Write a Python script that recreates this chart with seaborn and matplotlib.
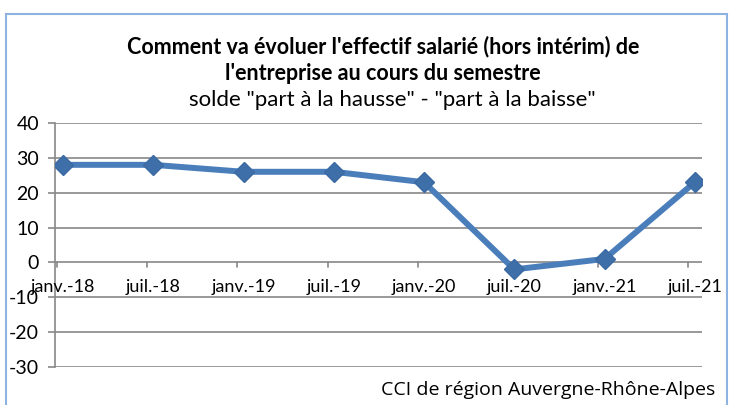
import matplotlib
matplotlib.use("Agg")
import matplotlib.pyplot as plt
import seaborn as sns
import pandas as pd
from matplotlib.patches import Rectangle

periods = ["janv.-18", "juil.-18", "janv.-19", "juil.-19", "janv.-20", "juil.-20", "janv.-21", "juil.-21"]
values = [28, 28, 26, 26, 23, -2, 1, 23]
y_ticks = [40, 30, 20, 10, 0, -10, -20, -30]

sns.set_theme(style="white")
plt.rcParams['font.family'] = ['Lato', 'DejaVu Sans']

df = pd.DataFrame({"x": range(len(periods)), "v": values})

fig = plt.figure(figsize=(7.29, 4.05), dpi=100)
fig.patch.set_facecolor("white")
fig.patches.append(Rectangle((6/729, -0.02), (727-6)/729, 1 - 14/405 + 0.02, transform=fig.transFigure,
                             fill=False, edgecolor="#8DB3E2", linewidth=1.5))

ax = fig.add_axes([55/729, 38/405, (702-55)/729, (367-123)/405])
sns.lineplot(data=df, x="x", y="v", ax=ax, color="#4A7EBB", linewidth=4.3,
             marker="D", markersize=10, markerfacecolor="#3F6FA8", markeredgecolor="#3A69A3",
             markeredgewidth=1, zorder=5)

ax.set_ylim(-30, 40)
ax.set_xlim(-0.09, 7.08)
ax.set_yticks(y_ticks)
ax.set_yticklabels([str(t) for t in y_ticks], fontsize=14, color="#000000")
for t in y_ticks:
    ax.axhline(t, color="#878787", linewidth=1.2, zorder=1)

ax.set_xticks(range(len(periods)))
ax.set_xticklabels([])
for i, p in enumerate(periods):
    ax.text(i, -7, p, ha="center", va="center", fontsize=13, color="#000000", zorder=6)

ax.spines["left"].set_visible(True)
ax.spines["left"].set_color("#878787")
ax.spines["left"].set_linewidth(1.2)
for s in ["top", "right", "bottom"]:
    ax.spines[s].set_visible(False)
ax.tick_params(axis="y", which="both", left=True, length=5, color="#878787", width=1.2, pad=6.5)
ax.tick_params(axis="x", which="both", bottom=False)
for i in range(len(periods)):
    ax.plot([i - 0.07, i - 0.07], [0, -1.3], color="#878787", linewidth=1.2, zorder=2, clip_on=False)

ax.set_xlabel("")
ax.set_ylabel("")
ax.set_facecolor("white")

fig.text(383/729, 1 - 47/405, "Comment va évoluer l'effectif salarié (hors intérim) de", ha="center", va="center",
         fontsize=15.5, fontweight="bold", color="#000000")
fig.text(383/729, 1 - 73/405, "l'entreprise au cours du semestre", ha="center", va="center",
         fontsize=15.5, fontweight="bold", color="#000000")
fig.text(392/729, 1 - 100/405, 'solde "part à la hausse" - "part à la baisse"', ha="center", va="center",
         fontsize=16, color="#000000")
fig.text(715/729, 1 - 390/405, "CCI de région Auvergne-Rhône-Alpes", ha="right", va="center",
         fontsize=14, color="#000000", family=["Open Sans", "DejaVu Sans"])

fig.savefig("out.png", dpi=100)
